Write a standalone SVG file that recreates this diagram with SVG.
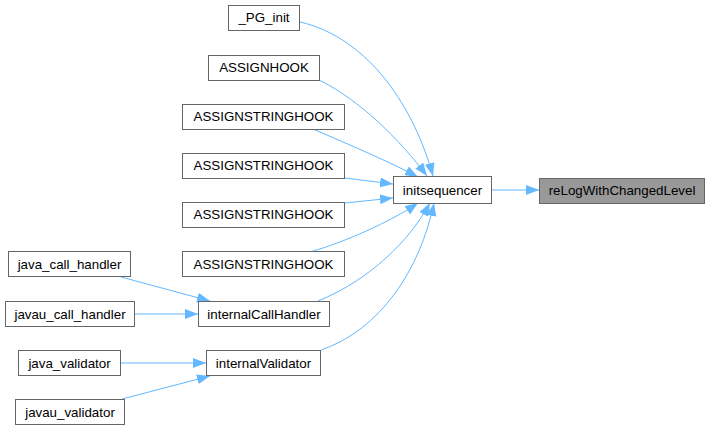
<svg xmlns="http://www.w3.org/2000/svg" width="709" height="431" viewBox="0 0 709 431">
<defs>
<marker id="arr" markerUnits="userSpaceOnUse" viewBox="0 0 13 10" refX="13" refY="5" markerWidth="13" markerHeight="10" orient="auto">
<path d="M0,0 L13,5 L0,10 z" fill="#63b8ff"/>
</marker>
</defs>
<style>
.node rect{fill:#ffffff;stroke:#666666;stroke-width:1}
.node text{font-family:"Liberation Sans",Arial,sans-serif;font-size:13.33px;fill:#000000;text-anchor:middle}
#n_relog rect{fill:#999999}
.edges path{fill:none;stroke:#63b8ff;stroke-width:1;marker-end:url(#arr)}
</style>
<rect width="709" height="431" fill="#ffffff"/>
<g class="edges" id="edges">
<path d="M491,190 L539,190"/>
<path d="M300,22 C370,38 415,110 433,176"/>
<path d="M319,80 C360,100 400,140 427,176"/>
<path d="M313,129 C350,145 390,162 418,177"/>
<path d="M345,178 L393,184"/>
<path d="M345,203 L393,198"/>
<path d="M310,252 C345,242 390,222 418,203"/>
<path d="M318,301 C370,280 410,240 430,203"/>
<path d="M321,350 C380,330 420,270 434,203"/>
<path d="M121,277 L210,301"/>
<path d="M135,314 L198,314"/>
<path d="M121,363 L206,363"/>
<path d="M122,399 L210,376"/>
</g>
<g class="node" id="n_pg_init"><rect x="228.5" y="5.5" width="71" height="25"/><text x="264" y="22">_PG_init</text></g>
<g class="node" id="n_assignhook"><rect x="208.5" y="55.5" width="111" height="25"/><text x="264" y="72">ASSIGNHOOK</text></g>
<g class="node" id="n_ash1"><rect x="182.5" y="104.5" width="162" height="25"/><text x="263.5" y="121">ASSIGNSTRINGHOOK</text></g>
<g class="node" id="n_ash2"><rect x="182.5" y="153.5" width="162" height="25"/><text x="263.5" y="170">ASSIGNSTRINGHOOK</text></g>
<g class="node" id="n_ash3"><rect x="182.5" y="202.5" width="162" height="25"/><text x="263.5" y="219">ASSIGNSTRINGHOOK</text></g>
<g class="node" id="n_ash4"><rect x="182.5" y="251.5" width="162" height="25"/><text x="263.5" y="268.5">ASSIGNSTRINGHOOK</text></g>
<g class="node" id="n_java_call_handler"><rect x="8.5" y="251.5" width="122" height="25"/><text x="69.5" y="268.5">java_call_handler</text></g>
<g class="node" id="n_javau_call_handler"><rect x="5.5" y="301.5" width="129" height="25"/><text x="70" y="318.5">javau_call_handler</text></g>
<g class="node" id="n_java_validator"><rect x="18.5" y="350.5" width="102" height="25"/><text x="69.5" y="367.5">java_validator</text></g>
<g class="node" id="n_javau_validator"><rect x="15.5" y="399.5" width="109" height="25"/><text x="70" y="416.5">javau_validator</text></g>
<g class="node" id="n_internalcallhandler"><rect x="198.5" y="301.5" width="131" height="25"/><text x="264" y="318.5">internalCallHandler</text></g>
<g class="node" id="n_internalvalidator"><rect x="206.5" y="350.5" width="114" height="25"/><text x="263.5" y="367.5">internalValidator</text></g>
<g class="node" id="n_initsequencer"><rect x="393.5" y="176.5" width="98" height="27"/><text x="442.5" y="194.5">initsequencer</text></g>
<g class="node" id="n_relog"><rect x="539.5" y="178.5" width="165" height="25"/><text x="622" y="195">reLogWithChangedLevel</text></g>
</svg>
